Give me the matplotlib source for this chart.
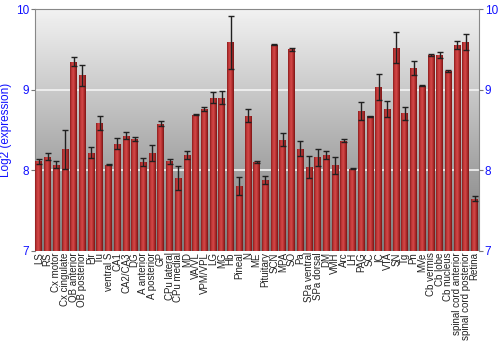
import numpy as np
import matplotlib.pyplot as plt
from matplotlib.colors import LinearSegmentedColormap

plt.rcParams['font.family'] = ['Liberation Sans', 'DejaVu Sans']

# tissue names along the x axis
TISSUES = ["LS", "RS", "Cx motor", "Cx cingulate", "OB anterior", "OB posterior",
           "Pir", "Tu", "ventral S", "CA1", "CA2/CA3", "DG", "A anterior",
           "A posterior", "GP", "CPu lateral", "CPu medial", "MD", "VA/VL",
           "VPM/VPL", "LG", "MG", "Hb", "Pineal", "N", "ME", "Pituitary", "SCN",
           "MPA", "SO", "Pa", "SPa ventral", "SPa dorsal", "DM", "VMH", "Arc",
           "LH", "PAG", "SC", "IC", "VTA", "SN", "Tg", "Pn", "MVe", "Cb vermis",
           "Cb lobe", "Cb nucleus", "spinal cord anterior",
           "spinal cord posterior", "Retina"]

# log2 expression values
EXPR = [8.11, 8.17, 8.07, 8.26, 9.35, 9.18, 8.22, 8.59, 8.07, 8.33, 8.43, 8.39,
        8.10, 8.21, 8.58, 8.11, 7.90, 8.19, 8.69, 8.76, 8.90, 8.90, 9.59, 7.81,
        8.68, 8.10, 7.88, 9.56, 8.38, 9.50, 8.27, 8.04, 8.16, 8.19, 8.06, 8.37,
        8.02, 8.74, 8.67, 9.03, 8.76, 9.52, 8.71, 9.27, 9.05, 9.43, 9.43, 9.23,
        9.56, 9.59, 7.65]

# error (half range)
ERR = [0.03, 0.04, 0.04, 0.24, 0.05, 0.13, 0.07, 0.09, 0.01, 0.07, 0.04, 0.02,
       0.05, 0.10, 0.03, 0.03, 0.15, 0.05, 0.005, 0.03, 0.07, 0.08, 0.33, 0.11,
       0.08, 0.01, 0.045, 0.005, 0.08, 0.02, 0.09, 0.14, 0.11, 0.055, 0.11, 0.02,
       0.005, 0.11, 0.005, 0.16, 0.10, 0.19, 0.08, 0.09, 0.01, 0.015, 0.04, 0.01,
       0.05, 0.10, 0.03]

BLUE = "#1010ff"
YMIN, YMAX = 7, 10

fig = plt.figure(figsize=(5, 3.5), dpi=100)
ax = fig.add_axes([0.069, 0.283, 0.889, 0.691])

x = np.arange(len(TISSUES))

# gray gradient background
bg = LinearSegmentedColormap.from_list("bg", ["#7c7c7c", "#a2a2a2", "#cacaca", "#f2f2f2"])
ax.imshow(np.linspace(0, 1, 256).reshape(-1, 1), aspect="auto", cmap=bg,
          extent=(-0.5, len(TISSUES) - 0.5, YMIN, YMAX), origin="lower", zorder=0)

for g in [8, 9]:
    ax.axhline(g, color="#f4f4f4", lw=1.2, zorder=1)

bars = ax.bar(x, np.array(EXPR) - YMIN, bottom=YMIN, width=0.8,
              color="#b83030", zorder=2)

# horizontal red shading inside every bar
red = LinearSegmentedColormap.from_list(
    "red", ["#8a1c1c", "#c43a3a", "#d24848", "#b02c2c", "#7a1515"])
grad = np.linspace(0, 1, 64).reshape(1, -1)
for b in bars:
    x0, y0 = b.get_x(), b.get_y()
    im = ax.imshow(grad, aspect="auto", cmap=red,
                   extent=(x0, x0 + b.get_width(), y0, y0 + b.get_height()),
                   zorder=3)
    im.set_clip_path(b)

ax.errorbar(x, EXPR, yerr=ERR, fmt="none", ecolor="#202020", elinewidth=1,
            capsize=2, capthick=1, zorder=4)

ax.set_xlim(-0.5, len(TISSUES) - 0.5)
ax.set_ylim(YMIN, YMAX)

ax.set_xticks(x)
ax.set_xticklabels(TISSUES, rotation=90, fontsize=7, color="#222222")
ax.tick_params(axis="x", length=0, pad=1)

ax.set_yticks([7, 8, 9, 10])
ax.tick_params(axis="y", colors="#777777", labelcolor=BLUE, labelsize=8.5,
               length=3, pad=1, left=True, right=True,
               labelleft=True, labelright=True)
ax.set_ylabel("Log2 (expression)", color=BLUE, fontsize=8.5, labelpad=3)

for s in ["left", "right", "top"]:
    ax.spines[s].set_color("#888888")
ax.spines["bottom"].set_visible(False)

fig.savefig("out.png", dpi=100)
